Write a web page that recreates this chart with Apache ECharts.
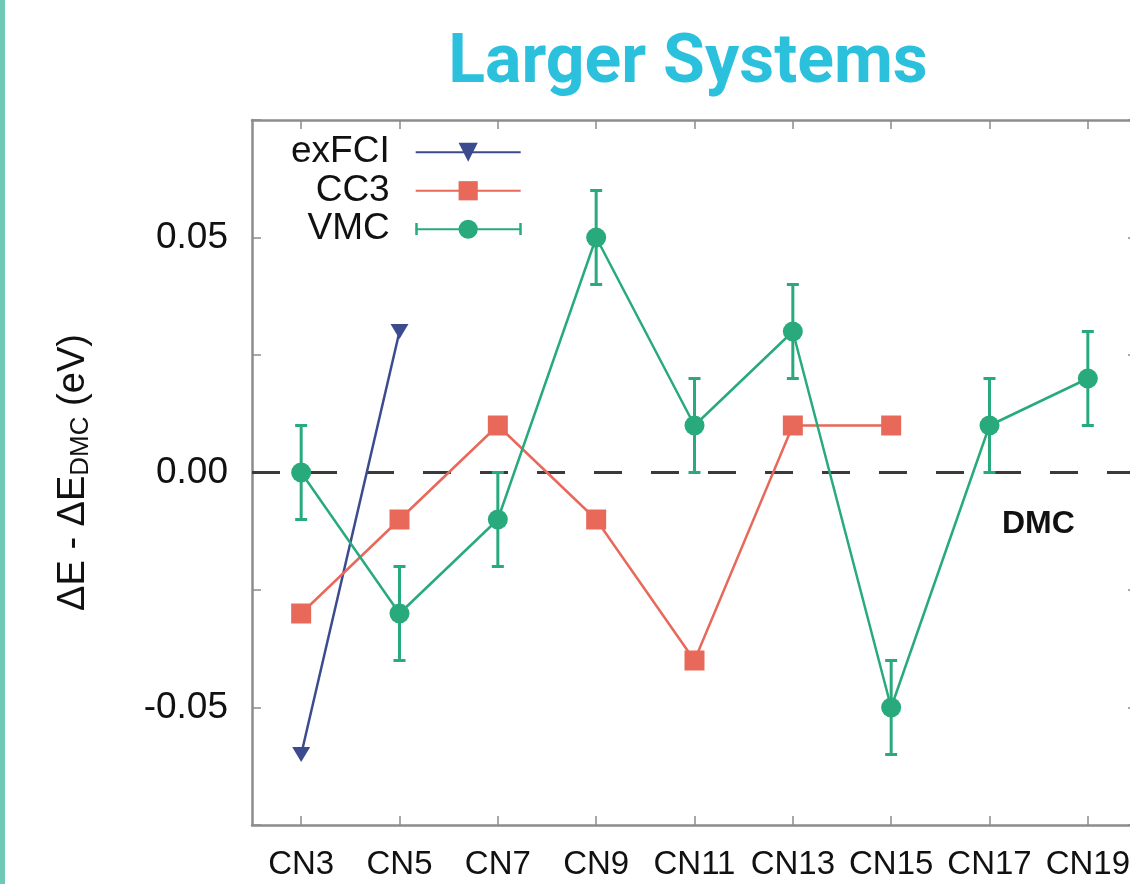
<!DOCTYPE html>
<html>
<head>
<meta charset="utf-8">
<script src="https://cdn.jsdelivr.net/npm/echarts@6/dist/echarts.min.js"></script>
<style>
  html, body { margin: 0; padding: 0; background: #ffffff; }
  #chart { width: 1130px; height: 884px; }
</style>
</head>
<body>
<div id="chart"></div>
<script>
// Molecules along the x axis
const categories = ['CN3', 'CN5', 'CN7', 'CN9', 'CN11', 'CN13', 'CN15', 'CN17', 'CN19'];

// Deviation from DMC excitation energy (eV)
const exfciValues = [-0.06, 0.03, null, null, null, null, null, null, null];
const cc3Values   = [-0.03, -0.01, 0.01, -0.01, -0.04, 0.01, 0.01, null, null];
const vmcValues   = [0.00, -0.03, -0.01, 0.05, 0.01, 0.03, -0.05, 0.01, 0.02];
const vmcErrors   = [0.01, 0.01, 0.01, 0.01, 0.01, 0.01, 0.01, 0.01, 0.01];

// Labelled y ticks
const yTickValues = [-0.05, 0.00, 0.05];
const yTickLabels = ['-0.05', '0.00', '0.05'];

const COLORS = { exfci: '#3b4b8e', cc3: '#e8685a', vmc: '#28aa7d' };
const FONT = 'Liberation Sans, Arial, Helvetica, sans-serif';
const AXIS_GREY = '#8c8c8c';

const vmcErrorData = vmcValues.map((v, i) => [i, v - vmcErrors[i], v + vmcErrors[i]]);

function yLabel(v) {
  for (let i = 0; i < yTickValues.length; i++) {
    if (Math.abs(v - yTickValues[i]) < 1e-9) return yTickLabels[i];
  }
  return '';
}

const chart = echarts.init(document.getElementById('chart'), null, { renderer: 'canvas' });

const axisLine = { show: true, onZero: false, lineStyle: { color: AXIS_GREY, width: 2.5 } };
const axisTick = { show: true, inside: true, length: 9, lineStyle: { color: AXIS_GREY, width: 1.5 } };

chart.setOption({
  animation: false,
  backgroundColor: '#ffffff',
  title: {
    text: 'Larger Systems',
    left: 683,
    top: 26,
    textAlign: 'center',
    textStyle: { color: '#2bc0dc', fontSize: 68, fontWeight: 'bold', fontFamily: 'Roboto, ' + FONT }
  },
  legend: {
    orient: 'vertical',
    align: 'right',
    left: 291,
    top: 133,
    padding: 0,
    itemGap: 0,
    itemWidth: 105,
    itemHeight: 24,
    selectedMode: false,
    data: ['exFCI', 'CC3', 'VMC'],
    textStyle: { fontSize: 37, fontFamily: FONT, color: '#111111', lineHeight: 38.5, padding: [0, 21, 0, 0] }
  },
  grid: { left: 252, top: 120, width: 885, height: 705, containLabel: false, outerBoundsMode: 'none' },
  xAxis: [
    {
      type: 'category',
      data: categories,
      boundaryGap: true,
      axisLine: axisLine,
      axisTick: Object.assign({ alignWithLabel: true, interval: 0 }, axisTick),
      axisLabel: { interval: 0, fontSize: 33, fontFamily: FONT, color: '#111111', margin: 23, hideOverlap: false },
      splitLine: { show: false }
    },
    {
      type: 'category',
      data: categories,
      position: 'top',
      boundaryGap: true,
      axisLine: axisLine,
      axisTick: Object.assign({ alignWithLabel: true, interval: 0 }, axisTick),
      axisLabel: { show: false },
      splitLine: { show: false }
    }
  ],
  yAxis: [
    {
      type: 'value',
      min: -0.075,
      max: 0.075,
      interval: 0.025,
      axisLine: axisLine,
      axisTick: axisTick,
      splitLine: { show: false },
      axisLabel: { fontSize: 37, fontFamily: FONT, color: '#111111', margin: 24, formatter: yLabel },
      name: '{m|ΔE - ΔE}{s|DMC}{m| (eV)}',
      nameLocation: 'middle',
      nameRotate: 90,
      nameGap: 158,
      nameTextStyle: {
        fontFamily: FONT,
        color: '#111111',
        rich: {
          m: { fontSize: 38, fontFamily: FONT, color: '#111111' },
          s: { fontSize: 26, fontFamily: FONT, color: '#111111', padding: [15, 0, 0, 0] }
        }
      }
    },
    {
      type: 'value',
      position: 'right',
      min: -0.075,
      max: 0.075,
      interval: 0.025,
      axisLine: axisLine,
      axisTick: axisTick,
      axisLabel: { show: false },
      splitLine: { show: false }
    }
  ],
  graphic: [
    // accent stripe at the left edge
    { type: 'rect', left: 0, top: 0, shape: { width: 5, height: 884 }, style: { fill: '#6ec9b5' }, z: 100 },
    // caps on the VMC legend sample
    { type: 'line', shape: { x1: 416.5, y1: 223, x2: 416.5, y2: 235 }, style: { stroke: COLORS.vmc, lineWidth: 2.5 }, z: 100 },
    { type: 'line', shape: { x1: 520.5, y1: 223, x2: 520.5, y2: 235 }, style: { stroke: COLORS.vmc, lineWidth: 2.5 }, z: 100 },
    // reference label for the zero line
    {
      type: 'text', left: 1002, top: 508, z: 100,
      style: { text: 'DMC', fontSize: 32, fontWeight: 'bold', fontFamily: FONT, fill: '#111111' }
    }
  ],
  series: [
    {
      name: 'exFCI',
      type: 'line',
      data: exfciValues,
      symbol: 'path://M0,0 L20,0 L10,17 Z',
      symbolSize: [18, 15],
      showAllSymbol: true,
      itemStyle: { color: COLORS.exfci },
      lineStyle: { color: COLORS.exfci, width: 2.5 },
      z: 3
    },
    {
      name: 'CC3',
      type: 'line',
      data: cc3Values,
      symbol: 'rect',
      symbolSize: 20,
      showAllSymbol: true,
      itemStyle: { color: COLORS.cc3 },
      lineStyle: { color: COLORS.cc3, width: 2.5 },
      z: 4,
      markLine: {
        silent: true,
        symbol: ['none', 'none'],
        label: { show: false },
        lineStyle: { color: '#3a3a3a', width: 3, type: [28, 29] },
        data: [{ yAxis: 0 }],
        z: 1
      }
    },
    {
      name: 'VMC error',
      type: 'custom',
      data: vmcErrorData,
      z: 5,
      renderItem: function (params, api) {
        const idx = api.value(0);
        const lo = api.coord([idx, api.value(1)]);
        const hi = api.coord([idx, api.value(2)]);
        const hw = 6;
        const style = { stroke: COLORS.vmc, lineWidth: 3, fill: null };
        return {
          type: 'group',
          children: [
            { type: 'line', shape: { x1: hi[0], y1: hi[1], x2: lo[0], y2: lo[1] }, style: style },
            { type: 'line', shape: { x1: hi[0] - hw, y1: hi[1], x2: hi[0] + hw, y2: hi[1] }, style: style },
            { type: 'line', shape: { x1: lo[0] - hw, y1: lo[1], x2: lo[0] + hw, y2: lo[1] }, style: style }
          ]
        };
      }
    },
    {
      name: 'VMC',
      type: 'line',
      data: vmcValues,
      symbol: 'circle',
      symbolSize: 20,
      showAllSymbol: true,
      itemStyle: { color: COLORS.vmc },
      lineStyle: { color: COLORS.vmc, width: 2.5 },
      z: 6
    }
  ]
});
</script>
</body>
</html>
